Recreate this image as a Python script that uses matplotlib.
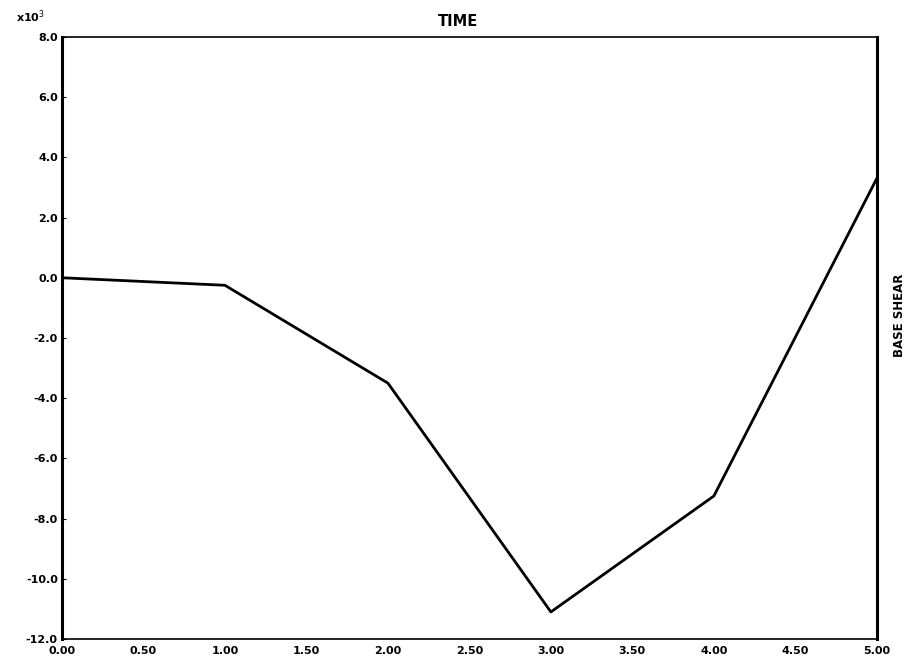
import numpy as np
import matplotlib.pyplot as plt

# ── DATA (base shear in units of 10^3) ────────────────────────────────────────
time_s      = [0.0, 1.0, 2.0, 3.0, 4.0, 5.0]
base_shear  = [0.0, -0.25, -3.5, -11.1, -7.25, 3.3]

x_ticks = [0.0, 0.5, 1.0, 1.5, 2.0, 2.5, 3.0, 3.5, 4.0, 4.5, 5.0]
y_ticks = [8.0, 6.0, 4.0, 2.0, 0.0, -2.0, -4.0, -6.0, -8.0, -10.0, -12.0]

# ── PLOT ──────────────────────────────────────────────────────────────────────
fig = plt.figure(figsize=(9.22, 6.59), dpi=100)
ax = fig.add_axes([0.0672, 0.0303, 0.8838, 0.9137])

ax.plot(time_s, base_shear, color="black", linewidth=2.0)

ax.set_xlim(0.0, 5.0)
ax.set_ylim(-12.0, 8.0)

ax.set_xticks(x_ticks)
ax.set_xticklabels([f"{t:.2f}" for t in x_ticks])
ax.set_yticks(y_ticks)
ax.set_yticklabels([f"{v:.1f}" for v in y_ticks])

ax.tick_params(axis="both", direction="in", length=3, width=0.8,
               labelsize=8, pad=3)
ax.tick_params(axis="x", length=0, pad=5)
for lbl in ax.get_xticklabels() + ax.get_yticklabels():
    lbl.set_fontweight("bold")

for side in ["left", "right"]:
    ax.spines[side].set_linewidth(2.2)
for side in ["top", "bottom"]:
    ax.spines[side].set_linewidth(1.2)

# Title, right-side label and exponent marker
fig.text(0.497, 0.968, "TIME", ha="center", va="center",
         fontsize=10.5, fontweight="bold")
fig.text(0.976, 0.522, "BASE SHEAR", ha="center", va="center",
         rotation=90, fontsize=8.5, fontweight="bold")
fig.text(0.033, 0.975, r"x10$^{3}$", ha="center", va="center",
         fontsize=8, fontweight="bold")

fig.savefig("out.png", dpi=100)
